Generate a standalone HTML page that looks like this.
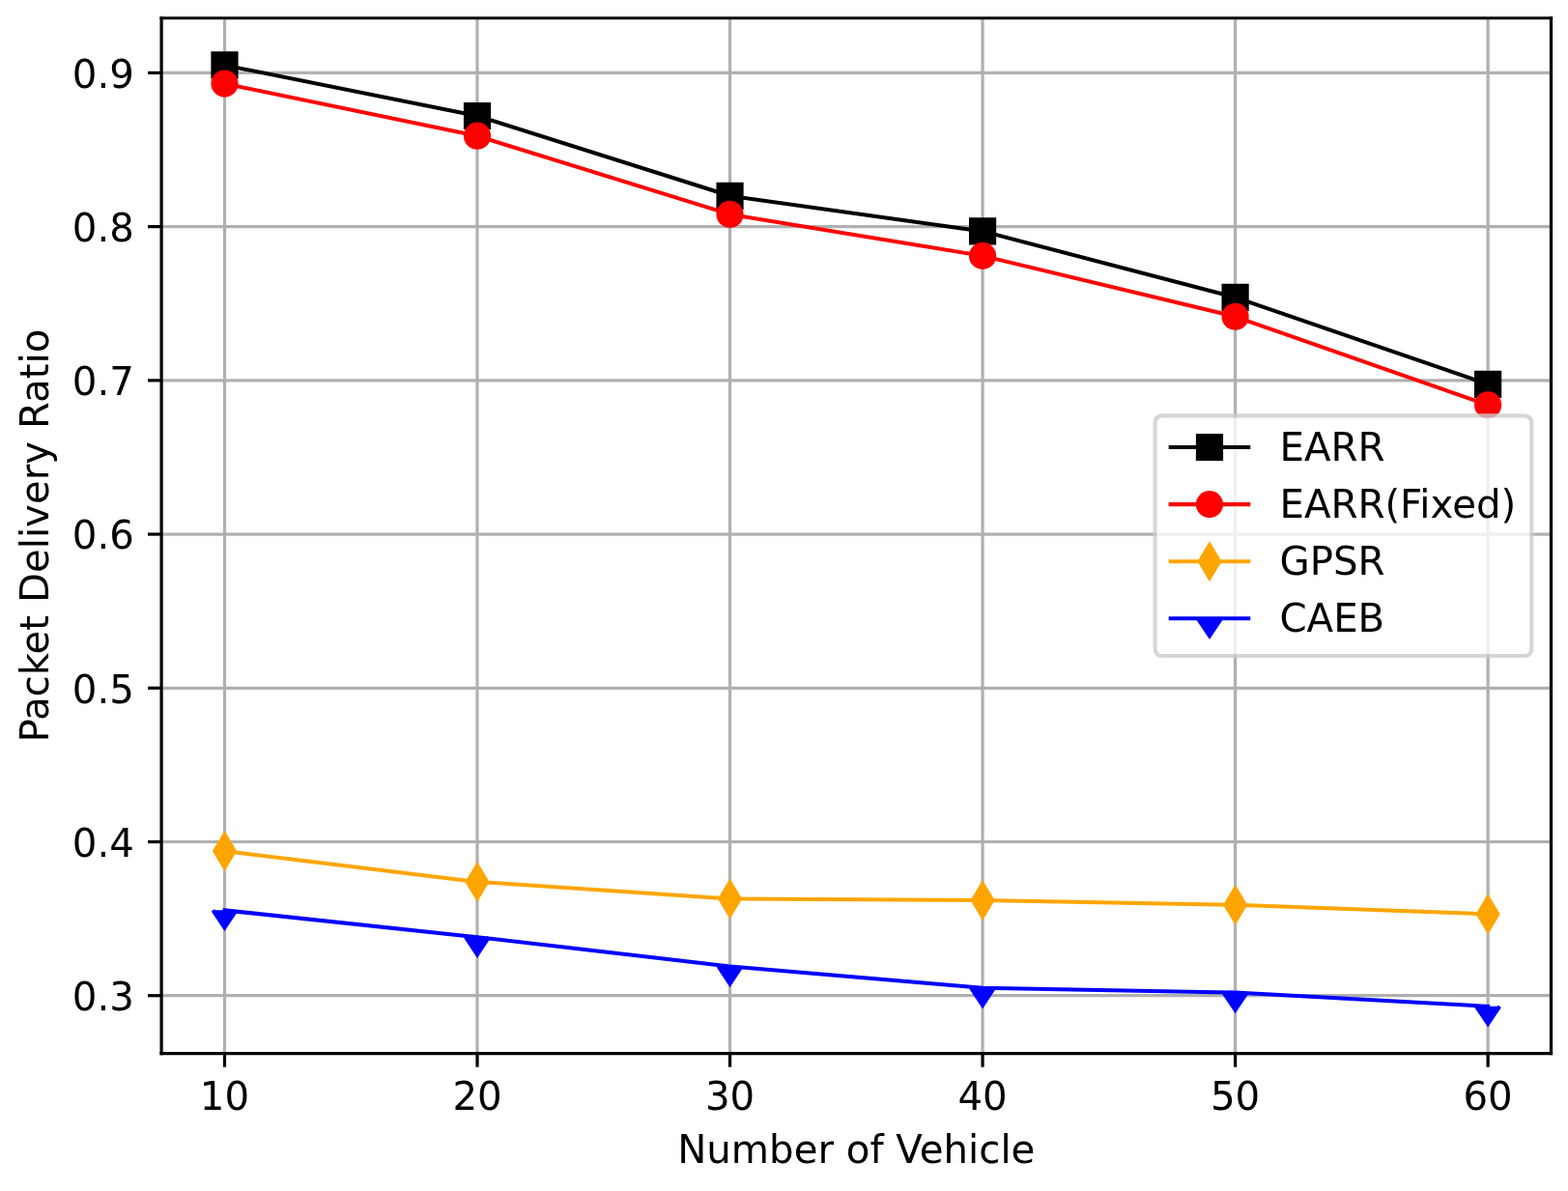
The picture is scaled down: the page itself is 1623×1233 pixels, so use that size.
<!DOCTYPE html>
<html><head><meta charset="utf-8"><title>Packet Delivery Ratio</title>
<style>html,body{margin:0;padding:0;background:#fff;width:1623px;height:1233px;overflow:hidden}</style>
</head><body>
<svg width="1623" height="1233" viewBox="0 0 402.951724 306.124138" style="display:block">
 
 <defs>
  <style type="text/css">*{stroke-linejoin: round; stroke-linecap: butt}</style>
 </defs>
 <g id="figure_1">
  <g id="patch_1">
   <path d="M 0 306.124138 
L 402.951724 306.124138 
L 402.951724 0 
L 0 0 
z
" style="fill: #ffffff"/>
  </g>
  <g id="axes_1">
   <g id="patch_2">
    <path d="M 41.486897 270.76469 
L 398.606897 270.76469 
L 398.606897 4.65269 
L 41.486897 4.65269 
z
" style="fill: #ffffff"/>
   </g>
   <g id="matplotlib.axis_1">
    <g id="xtick_1">
     <g id="line2d_1">
      <path d="M 57.719624 270.76469 
L 57.719624 4.65269 
" clip-path="url(#pf95671cd0c)" style="fill: none; stroke: #b0b0b0; stroke-width: 0.8; stroke-linecap: square"/>
     </g>
     <g id="line2d_2">
      <defs>
       <path id="md867c5059b" d="M 0 0 
L 0 3.5 
" style="stroke: #000000; stroke-width: 0.8"/>
      </defs>
      <g>
       <use href="#md867c5059b" x="57.719624" y="270.76469" style="stroke: #000000; stroke-width: 0.8"/>
      </g>
     </g>
     <g id="text_1">
      <text style="font-size: 10px; font-family: 'DejaVu Sans', sans-serif; text-anchor: middle" x="57.719624" y="285.363127" transform="rotate(-0 57.719624 285.363127)">10</text>
     </g>
    </g>
    <g id="xtick_2">
     <g id="line2d_3">
      <path d="M 122.650533 270.76469 
L 122.650533 4.65269 
" clip-path="url(#pf95671cd0c)" style="fill: none; stroke: #b0b0b0; stroke-width: 0.8; stroke-linecap: square"/>
     </g>
     <g id="line2d_4">
      <g>
       <use href="#md867c5059b" x="122.650533" y="270.76469" style="stroke: #000000; stroke-width: 0.8"/>
      </g>
     </g>
     <g id="text_2">
      <text style="font-size: 10px; font-family: 'DejaVu Sans', sans-serif; text-anchor: middle" x="122.650533" y="285.363127" transform="rotate(-0 122.650533 285.363127)">20</text>
     </g>
    </g>
    <g id="xtick_3">
     <g id="line2d_5">
      <path d="M 187.581442 270.76469 
L 187.581442 4.65269 
" clip-path="url(#pf95671cd0c)" style="fill: none; stroke: #b0b0b0; stroke-width: 0.8; stroke-linecap: square"/>
     </g>
     <g id="line2d_6">
      <g>
       <use href="#md867c5059b" x="187.581442" y="270.76469" style="stroke: #000000; stroke-width: 0.8"/>
      </g>
     </g>
     <g id="text_3">
      <text style="font-size: 10px; font-family: 'DejaVu Sans', sans-serif; text-anchor: middle" x="187.581442" y="285.363127" transform="rotate(-0 187.581442 285.363127)">30</text>
     </g>
    </g>
    <g id="xtick_4">
     <g id="line2d_7">
      <path d="M 252.512351 270.76469 
L 252.512351 4.65269 
" clip-path="url(#pf95671cd0c)" style="fill: none; stroke: #b0b0b0; stroke-width: 0.8; stroke-linecap: square"/>
     </g>
     <g id="line2d_8">
      <g>
       <use href="#md867c5059b" x="252.512351" y="270.76469" style="stroke: #000000; stroke-width: 0.8"/>
      </g>
     </g>
     <g id="text_4">
      <text style="font-size: 10px; font-family: 'DejaVu Sans', sans-serif; text-anchor: middle" x="252.512351" y="285.363127" transform="rotate(-0 252.512351 285.363127)">40</text>
     </g>
    </g>
    <g id="xtick_5">
     <g id="line2d_9">
      <path d="M 317.44326 270.76469 
L 317.44326 4.65269 
" clip-path="url(#pf95671cd0c)" style="fill: none; stroke: #b0b0b0; stroke-width: 0.8; stroke-linecap: square"/>
     </g>
     <g id="line2d_10">
      <g>
       <use href="#md867c5059b" x="317.44326" y="270.76469" style="stroke: #000000; stroke-width: 0.8"/>
      </g>
     </g>
     <g id="text_5">
      <text style="font-size: 10px; font-family: 'DejaVu Sans', sans-serif; text-anchor: middle" x="317.44326" y="285.363127" transform="rotate(-0 317.44326 285.363127)">50</text>
     </g>
    </g>
    <g id="xtick_6">
     <g id="line2d_11">
      <path d="M 382.374169 270.76469 
L 382.374169 4.65269 
" clip-path="url(#pf95671cd0c)" style="fill: none; stroke: #b0b0b0; stroke-width: 0.8; stroke-linecap: square"/>
     </g>
     <g id="line2d_12">
      <g>
       <use href="#md867c5059b" x="382.374169" y="270.76469" style="stroke: #000000; stroke-width: 0.8"/>
      </g>
     </g>
     <g id="text_6">
      <text style="font-size: 10px; font-family: 'DejaVu Sans', sans-serif; text-anchor: middle" x="382.374169" y="285.363127" transform="rotate(-0 382.374169 285.363127)">60</text>
     </g>
    </g>
    <g id="text_7">
     <text style="font-size: 10px; font-family: 'DejaVu Sans', sans-serif; text-anchor: middle" x="220.046897" y="299.041252" transform="rotate(-0 220.046897 299.041252)">Number of Vehicle</text>
    </g>
   </g>
   <g id="matplotlib.axis_2">
    <g id="ytick_1">
     <g id="line2d_13">
      <path d="M 41.486897 255.901631 
L 398.606897 255.901631 
" clip-path="url(#pf95671cd0c)" style="fill: none; stroke: #b0b0b0; stroke-width: 0.8; stroke-linecap: square"/>
     </g>
     <g id="line2d_14">
      <defs>
       <path id="m5cc3f14261" d="M 0 0 
L -3.5 0 
" style="stroke: #000000; stroke-width: 0.8"/>
      </defs>
      <g>
       <use href="#m5cc3f14261" x="41.486897" y="255.901631" style="stroke: #000000; stroke-width: 0.8"/>
      </g>
     </g>
     <g id="text_8">
      <text style="font-size: 10px; font-family: 'DejaVu Sans', sans-serif; text-anchor: end" x="34.486897" y="259.70085" transform="rotate(-0 34.486897 259.70085)">0.3</text>
     </g>
    </g>
    <g id="ytick_2">
     <g id="line2d_15">
      <path d="M 41.486897 216.372219 
L 398.606897 216.372219 
" clip-path="url(#pf95671cd0c)" style="fill: none; stroke: #b0b0b0; stroke-width: 0.8; stroke-linecap: square"/>
     </g>
     <g id="line2d_16">
      <g>
       <use href="#m5cc3f14261" x="41.486897" y="216.372219" style="stroke: #000000; stroke-width: 0.8"/>
      </g>
     </g>
     <g id="text_9">
      <text style="font-size: 10px; font-family: 'DejaVu Sans', sans-serif; text-anchor: end" x="34.486897" y="220.171438" transform="rotate(-0 34.486897 220.171438)">0.4</text>
     </g>
    </g>
    <g id="ytick_3">
     <g id="line2d_17">
      <path d="M 41.486897 176.842807 
L 398.606897 176.842807 
" clip-path="url(#pf95671cd0c)" style="fill: none; stroke: #b0b0b0; stroke-width: 0.8; stroke-linecap: square"/>
     </g>
     <g id="line2d_18">
      <g>
       <use href="#m5cc3f14261" x="41.486897" y="176.842807" style="stroke: #000000; stroke-width: 0.8"/>
      </g>
     </g>
     <g id="text_10">
      <text style="font-size: 10px; font-family: 'DejaVu Sans', sans-serif; text-anchor: end" x="34.486897" y="180.642026" transform="rotate(-0 34.486897 180.642026)">0.5</text>
     </g>
    </g>
    <g id="ytick_4">
     <g id="line2d_19">
      <path d="M 41.486897 137.313396 
L 398.606897 137.313396 
" clip-path="url(#pf95671cd0c)" style="fill: none; stroke: #b0b0b0; stroke-width: 0.8; stroke-linecap: square"/>
     </g>
     <g id="line2d_20">
      <g>
       <use href="#m5cc3f14261" x="41.486897" y="137.313396" style="stroke: #000000; stroke-width: 0.8"/>
      </g>
     </g>
     <g id="text_11">
      <text style="font-size: 10px; font-family: 'DejaVu Sans', sans-serif; text-anchor: end" x="34.486897" y="141.112614" transform="rotate(-0 34.486897 141.112614)">0.6</text>
     </g>
    </g>
    <g id="ytick_5">
     <g id="line2d_21">
      <path d="M 41.486897 97.783984 
L 398.606897 97.783984 
" clip-path="url(#pf95671cd0c)" style="fill: none; stroke: #b0b0b0; stroke-width: 0.8; stroke-linecap: square"/>
     </g>
     <g id="line2d_22">
      <g>
       <use href="#m5cc3f14261" x="41.486897" y="97.783984" style="stroke: #000000; stroke-width: 0.8"/>
      </g>
     </g>
     <g id="text_12">
      <text style="font-size: 10px; font-family: 'DejaVu Sans', sans-serif; text-anchor: end" x="34.486897" y="101.583203" transform="rotate(-0 34.486897 101.583203)">0.7</text>
     </g>
    </g>
    <g id="ytick_6">
     <g id="line2d_23">
      <path d="M 41.486897 58.254572 
L 398.606897 58.254572 
" clip-path="url(#pf95671cd0c)" style="fill: none; stroke: #b0b0b0; stroke-width: 0.8; stroke-linecap: square"/>
     </g>
     <g id="line2d_24">
      <g>
       <use href="#m5cc3f14261" x="41.486897" y="58.254572" style="stroke: #000000; stroke-width: 0.8"/>
      </g>
     </g>
     <g id="text_13">
      <text style="font-size: 10px; font-family: 'DejaVu Sans', sans-serif; text-anchor: end" x="34.486897" y="62.053791" transform="rotate(-0 34.486897 62.053791)">0.8</text>
     </g>
    </g>
    <g id="ytick_7">
     <g id="line2d_25">
      <path d="M 41.486897 18.72516 
L 398.606897 18.72516 
" clip-path="url(#pf95671cd0c)" style="fill: none; stroke: #b0b0b0; stroke-width: 0.8; stroke-linecap: square"/>
     </g>
     <g id="line2d_26">
      <g>
       <use href="#m5cc3f14261" x="41.486897" y="18.72516" style="stroke: #000000; stroke-width: 0.8"/>
      </g>
     </g>
     <g id="text_14">
      <text style="font-size: 10px; font-family: 'DejaVu Sans', sans-serif; text-anchor: end" x="34.486897" y="22.524379" transform="rotate(-0 34.486897 22.524379)">0.9</text>
     </g>
    </g>
    <g id="text_15">
     <text style="font-size: 10px; font-family: 'DejaVu Sans', sans-serif; text-anchor: middle" x="12.504084" y="137.70869" transform="rotate(-90 12.504084 137.70869)">Packet Delivery Ratio</text>
    </g>
   </g>
   <g id="line2d_27">
    <path d="M 57.719624 16.74869 
L 122.650533 29.793396 
L 187.581442 50.34869 
L 252.512351 59.440454 
L 317.44326 76.438101 
L 382.374169 98.772219 
" clip-path="url(#pf95671cd0c)" style="fill: none; stroke: #000000; stroke-linecap: square"/>
    <defs>
     <path id="mbaf78a37b1" d="M -3 3 
L 3 3 
L 3 -3 
L -3 -3 
z
" style="stroke: #000000; stroke-linejoin: miter"/>
    </defs>
    <g clip-path="url(#pf95671cd0c)">
     <use href="#mbaf78a37b1" x="57.719624" y="16.74869" style="stroke: #000000; stroke-linejoin: miter"/>
     <use href="#mbaf78a37b1" x="122.650533" y="29.793396" style="stroke: #000000; stroke-linejoin: miter"/>
     <use href="#mbaf78a37b1" x="187.581442" y="50.34869" style="stroke: #000000; stroke-linejoin: miter"/>
     <use href="#mbaf78a37b1" x="252.512351" y="59.440454" style="stroke: #000000; stroke-linejoin: miter"/>
     <use href="#mbaf78a37b1" x="317.44326" y="76.438101" style="stroke: #000000; stroke-linejoin: miter"/>
     <use href="#mbaf78a37b1" x="382.374169" y="98.772219" style="stroke: #000000; stroke-linejoin: miter"/>
    </g>
   </g>
   <g id="line2d_28">
    <path d="M 57.719624 21.492219 
L 122.650533 34.932219 
L 187.581442 55.092219 
L 252.512351 65.76516 
L 317.44326 81.379278 
L 382.374169 104.10869 
" clip-path="url(#pf95671cd0c)" style="fill: none; stroke: #ff0000; stroke-linecap: square"/>
    <defs>
     <path id="m4a95aa8130" d="M 0 3 
C 0.795609 3 1.55874 2.683901 2.12132 2.12132 
C 2.683901 1.55874 3 0.795609 3 0 
C 3 -0.795609 2.683901 -1.55874 2.12132 -2.12132 
C 1.55874 -2.683901 0.795609 -3 0 -3 
C -0.795609 -3 -1.55874 -2.683901 -2.12132 -2.12132 
C -2.683901 -1.55874 -3 -0.795609 -3 0 
C -3 0.795609 -2.683901 1.55874 -2.12132 2.12132 
C -1.55874 2.683901 -0.795609 3 0 3 
z
" style="stroke: #ff0000"/>
    </defs>
    <g clip-path="url(#pf95671cd0c)">
     <use href="#m4a95aa8130" x="57.719624" y="21.492219" style="fill: #ff0000; stroke: #ff0000"/>
     <use href="#m4a95aa8130" x="122.650533" y="34.932219" style="fill: #ff0000; stroke: #ff0000"/>
     <use href="#m4a95aa8130" x="187.581442" y="55.092219" style="fill: #ff0000; stroke: #ff0000"/>
     <use href="#m4a95aa8130" x="252.512351" y="65.76516" style="fill: #ff0000; stroke: #ff0000"/>
     <use href="#m4a95aa8130" x="317.44326" y="81.379278" style="fill: #ff0000; stroke: #ff0000"/>
     <use href="#m4a95aa8130" x="382.374169" y="104.10869" style="fill: #ff0000; stroke: #ff0000"/>
    </g>
   </g>
   <g id="line2d_29">
    <path d="M 57.719624 218.743984 
L 122.650533 226.649866 
L 187.581442 230.998101 
L 252.512351 231.393396 
L 317.44326 232.579278 
L 382.374169 234.951043 
" clip-path="url(#pf95671cd0c)" style="fill: none; stroke: #ffa500; stroke-linecap: square"/>
    <defs>
     <path id="m25610fe10c" d="M -0 4.242641 
L 2.545584 0 
L 0 -4.242641 
L -2.545584 -0 
z
" style="stroke: #ffa500; stroke-linejoin: miter"/>
    </defs>
    <g clip-path="url(#pf95671cd0c)">
     <use href="#m25610fe10c" x="57.719624" y="218.743984" style="fill: #ffa500; stroke: #ffa500; stroke-linejoin: miter"/>
     <use href="#m25610fe10c" x="122.650533" y="226.649866" style="fill: #ffa500; stroke: #ffa500; stroke-linejoin: miter"/>
     <use href="#m25610fe10c" x="187.581442" y="230.998101" style="fill: #ffa500; stroke: #ffa500; stroke-linejoin: miter"/>
     <use href="#m25610fe10c" x="252.512351" y="231.393396" style="fill: #ffa500; stroke: #ffa500; stroke-linejoin: miter"/>
     <use href="#m25610fe10c" x="317.44326" y="232.579278" style="fill: #ffa500; stroke: #ffa500; stroke-linejoin: miter"/>
     <use href="#m25610fe10c" x="382.374169" y="234.951043" style="fill: #ffa500; stroke: #ffa500; stroke-linejoin: miter"/>
    </g>
   </g>
   <g id="line2d_30">
    <path d="M 57.719624 233.962807 
L 122.650533 240.880454 
L 187.581442 248.391043 
L 252.512351 253.92516 
L 317.44326 255.111043 
L 382.374169 258.66869 
" clip-path="url(#pf95671cd0c)" style="fill: none; stroke: #0000ff; stroke-linecap: square"/>
    <defs>
     <path id="m5bbe9a783c" d="M -3 0 L 0 4.5 L 3 0" style="stroke: #0000ff; stroke-linejoin: miter"/>
    </defs>
    <g clip-path="url(#pf95671cd0c)">
     <use href="#m5bbe9a783c" x="57.719624" y="233.962807" style="fill: #0000ff; stroke: #0000ff"/>
     <use href="#m5bbe9a783c" x="122.650533" y="240.880454" style="fill: #0000ff; stroke: #0000ff"/>
     <use href="#m5bbe9a783c" x="187.581442" y="248.391043" style="fill: #0000ff; stroke: #0000ff"/>
     <use href="#m5bbe9a783c" x="252.512351" y="253.92516" style="fill: #0000ff; stroke: #0000ff"/>
     <use href="#m5bbe9a783c" x="317.44326" y="255.111043" style="fill: #0000ff; stroke: #0000ff"/>
     <use href="#m5bbe9a783c" x="382.374169" y="258.66869" style="fill: #0000ff; stroke: #0000ff"/>
    </g>
   </g>
   <g id="patch_3">
    <path d="M 41.486897 270.76469 
L 41.486897 4.65269 
" style="fill: none; stroke: #000000; stroke-width: 0.8; stroke-linejoin: miter; stroke-linecap: square"/>
   </g>
   <g id="patch_4">
    <path d="M 398.606897 270.76469 
L 398.606897 4.65269 
" style="fill: none; stroke: #000000; stroke-width: 0.8; stroke-linejoin: miter; stroke-linecap: square"/>
   </g>
   <g id="patch_5">
    <path d="M 41.486897 270.76469 
L 398.606897 270.76469 
" style="fill: none; stroke: #000000; stroke-width: 0.8; stroke-linejoin: miter; stroke-linecap: square"/>
   </g>
   <g id="patch_6">
    <path d="M 41.486897 4.65269 
L 398.606897 4.65269 
" style="fill: none; stroke: #000000; stroke-width: 0.8; stroke-linejoin: miter; stroke-linecap: square"/>
   </g>
   <g id="legend_1">
    <g id="patch_7">
     <path d="M 298.835022 168.56494 
L 391.606897 168.56494 
Q 393.606897 168.56494 393.606897 166.56494 
L 393.606897 108.85244 
Q 393.606897 106.85244 391.606897 106.85244 
L 298.835022 106.85244 
Q 296.835022 106.85244 296.835022 108.85244 
L 296.835022 166.56494 
Q 296.835022 168.56494 298.835022 168.56494 
z
" style="fill: #ffffff; opacity: 0.8; stroke: #cccccc; stroke-linejoin: miter"/>
    </g>
    <g id="line2d_31">
     <path d="M 300.835022 114.950877 
L 310.835022 114.950877 
L 320.835022 114.950877 
" style="fill: none; stroke: #000000; stroke-linecap: square"/>
     <g>
      <use href="#mbaf78a37b1" x="310.835022" y="114.950877" style="stroke: #000000; stroke-linejoin: miter"/>
     </g>
    </g>
    <g id="text_16">
     <text style="font-size: 10px; font-family: 'DejaVu Sans', sans-serif; text-anchor: start" x="328.835022" y="118.450877" transform="rotate(-0 328.835022 118.450877)">EARR</text>
    </g>
    <g id="line2d_32">
     <path d="M 300.835022 129.629002 
L 310.835022 129.629002 
L 320.835022 129.629002 
" style="fill: none; stroke: #ff0000; stroke-linecap: square"/>
     <g>
      <use href="#m4a95aa8130" x="310.835022" y="129.629002" style="fill: #ff0000; stroke: #ff0000"/>
     </g>
    </g>
    <g id="text_17">
     <text style="font-size: 10px; font-family: 'DejaVu Sans', sans-serif; text-anchor: start" x="328.835022" y="133.129002" transform="rotate(-0 328.835022 133.129002)">EARR(Fixed)</text>
    </g>
    <g id="line2d_33">
     <path d="M 300.835022 144.307127 
L 310.835022 144.307127 
L 320.835022 144.307127 
" style="fill: none; stroke: #ffa500; stroke-linecap: square"/>
     <g>
      <use href="#m25610fe10c" x="310.835022" y="144.307127" style="fill: #ffa500; stroke: #ffa500; stroke-linejoin: miter"/>
     </g>
    </g>
    <g id="text_18">
     <text style="font-size: 10px; font-family: 'DejaVu Sans', sans-serif; text-anchor: start" x="328.835022" y="147.807127" transform="rotate(-0 328.835022 147.807127)">GPSR</text>
    </g>
    <g id="line2d_34">
     <path d="M 300.835022 158.985252 
L 310.835022 158.985252 
L 320.835022 158.985252 
" style="fill: none; stroke: #0000ff; stroke-linecap: square"/>
     <g>
      <use href="#m5bbe9a783c" x="310.835022" y="158.985252" style="fill: #0000ff; stroke: #0000ff"/>
     </g>
    </g>
    <g id="text_19">
     <text style="font-size: 10px; font-family: 'DejaVu Sans', sans-serif; text-anchor: start" x="328.835022" y="162.485252" transform="rotate(-0 328.835022 162.485252)">CAEB</text>
    </g>
   </g>
  </g>
 </g>
 <defs>
  <clipPath id="pf95671cd0c">
   <rect x="41.486897" y="4.65269" width="357.12" height="266.112"/>
  </clipPath>
 </defs>
</svg>

</body></html>
